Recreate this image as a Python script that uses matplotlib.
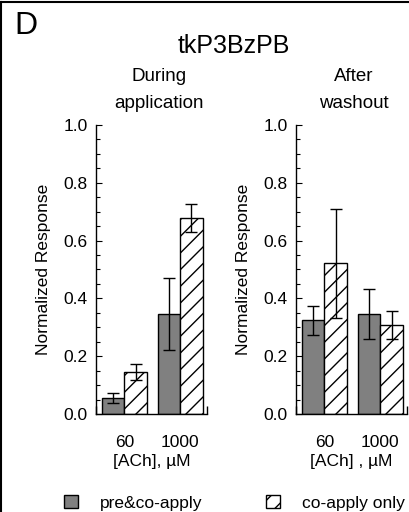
"""Normalized ACh responses for tkP3BzPB, during application and after washout."""
import matplotlib
matplotlib.use('Agg')
import matplotlib.pyplot as plt
from matplotlib.patches import Patch
from matplotlib.lines import Line2D
from matplotlib.ticker import MultipleLocator, FormatStrFormatter

plt.rcParams['font.family'] = ['Liberation Sans', 'DejaVu Sans']
plt.rcParams['hatch.linewidth'] = 1.0

# [ACh] concentrations (uM)
conc_labels = ['60', '1000']

# During application
during_pre = [0.055, 0.346]
during_pre_err = [0.018, 0.125]
during_co = [0.145, 0.678]
during_co_err = [0.028, 0.050]

# After washout
after_pre = [0.324, 0.345]
after_pre_err = [0.050, 0.086]
after_co = [0.521, 0.308]
after_co_err = [0.188, 0.050]

legend_labels = ['pre&co-apply', 'co-apply only']

GRAY = '#808080'
W = 0.404
XLIM = (-0.508, 1.485)

fig = plt.figure(figsize=(4.1, 5.12), dpi=100)

ax1 = fig.add_axes([0.2341, 0.1914, 0.2715, 0.5645])
ax2 = fig.add_axes([0.7220, 0.1914, 0.2715, 0.5645])


def draw_panel(ax, pre, pre_err, co, co_err, xlabel):
    x = list(range(len(conc_labels)))
    xp = [g - W / 2 for g in x]
    xc = [g + W / 2 for g in x]
    ax.bar(xp, pre, width=W, color=GRAY, edgecolor='black', linewidth=1.0, zorder=2)
    ax.bar(xc, co, width=W, color='white', edgecolor='black', linewidth=1.0,
           hatch='//', zorder=2)
    ax.errorbar(xp, pre, yerr=pre_err, fmt='none', ecolor='black',
                elinewidth=1.0, capsize=4.5, capthick=1.0, zorder=3)
    ax.errorbar(xc, co, yerr=co_err, fmt='none', ecolor='black',
                elinewidth=1.0, capsize=4.5, capthick=1.0, zorder=3)

    ax.set_xlim(*XLIM)
    ax.set_ylim(0, 1.0)
    for s in ['top', 'right']:
        ax.spines[s].set_visible(False)
    for s in ['left', 'bottom']:
        ax.spines[s].set_linewidth(1.0)

    ax.set_xticks(x)
    ax.set_xticklabels(conc_labels, fontsize=12.5)
    ax.tick_params(axis='x', which='major', length=0, pad=15)
    # small upturned ends on the baseline
    ax.set_xticks(list(XLIM), minor=True)
    ax.tick_params(axis='x', which='minor', direction='in', length=6, width=1.0)

    ax.yaxis.set_major_locator(MultipleLocator(0.2))
    ax.yaxis.set_minor_locator(MultipleLocator(0.05))
    ax.yaxis.set_major_formatter(FormatStrFormatter('%.1f'))
    ax.tick_params(axis='y', which='both', direction='in', width=0.8, labelsize=12.5, pad=6)
    ax.tick_params(axis='y', which='major', length=4.5)
    ax.tick_params(axis='y', which='minor', length=3)

    ax.set_xlabel(xlabel, fontsize=12.5, labelpad=3)
    ax.set_ylabel('Normalized Response', fontsize=12.5)
    ax.yaxis.set_label_coords(-0.40, 0.5)


draw_panel(ax1, during_pre, during_pre_err, during_co, during_co_err, '[ACh], µM')
draw_panel(ax2, after_pre, after_pre_err, after_co, after_co_err, '[ACh] , µM')

fig.text(26 / 410, 1 - 26 / 512, 'D', fontsize=23, ha='center', va='center')
fig.text(234 / 410, 1 - 46 / 512, 'tkP3BzPB', fontsize=18, ha='center', va='center')
fig.text(159 / 410, 1 - 90 / 512, 'During\napplication', fontsize=13.5,
         ha='center', va='center', linespacing=1.7)
fig.text(354 / 410, 1 - 90 / 512, 'After\nwashout', fontsize=13.5,
         ha='center', va='center', linespacing=1.7)

# panel frame along top and left edge
fig.add_artist(Line2D([0.003, 0.003], [0, 0.997], color='black', linewidth=1.5,
                      transform=fig.transFigure))
fig.add_artist(Line2D([0.003, 1.0], [0.997, 0.997], color='black', linewidth=1.5,
                      transform=fig.transFigure))

handles = [Patch(facecolor=GRAY, edgecolor='black', linewidth=1.0),
           Patch(facecolor='white', edgecolor='black', linewidth=1.0, hatch='//')]
fig.legend(handles, legend_labels, loc='center', bbox_to_anchor=(234.5 / 410, 1 - 503 / 512),
           ncol=2, frameon=False, fontsize=12.5, handlelength=0.8, handleheight=0.75,
           handletextpad=1.25, columnspacing=3.7, borderpad=0)

plt.savefig('out.png', dpi=100, facecolor='white')
plt.close()
print("OK: out.png")
